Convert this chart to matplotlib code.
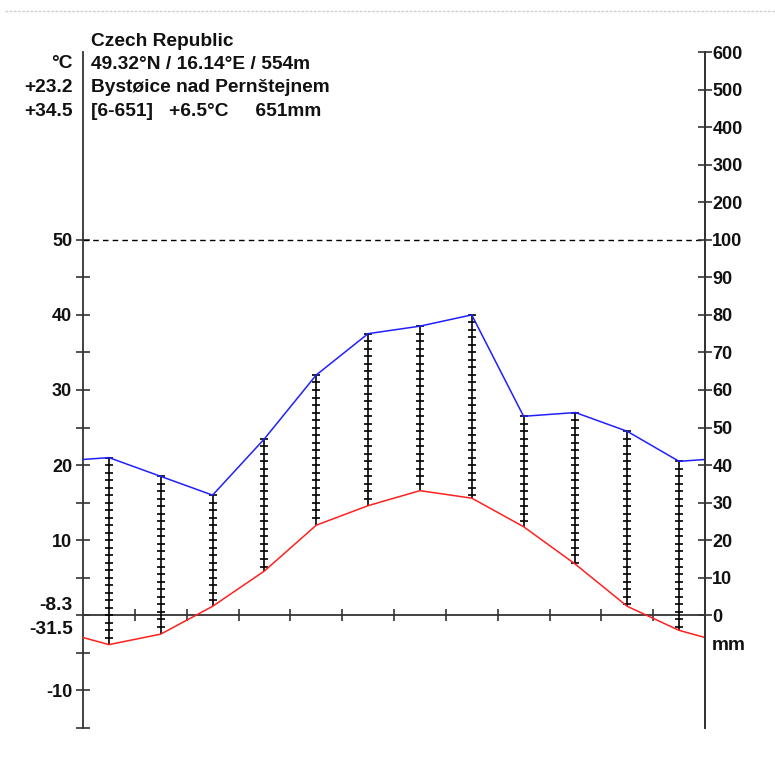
import numpy as np
import matplotlib.pyplot as plt
from matplotlib.lines import Line2D

plt.rcParams['font.family'] = ['Liberation Sans', 'DejaVu Sans']
plt.rcParams['font.weight'] = 'bold'

# station data
months = np.arange(12) + 0.5
temp_c = [-3.9, -2.5, 1.2, 5.9, 12.0, 14.6, 16.6, 15.6, 11.8, 6.8, 1.2, -2.0]
precip_mm = [42, 37, 32, 47, 64, 75, 77, 80, 53, 54, 49, 41]

header_lines = ['Czech Republic', '49.32°N / 16.14°E / 554m',
                'Bystøice nad Pernštejnem', '[6-651]   +6.5°C     651mm']
side_lines = ['°C', '+23.2', '+34.5']
low_labels = ['-8.3', '-31.5']

temp_ticks = [-10, 0, 10, 20, 30, 40, 50]
temp_tick_labels = ['-10', '', '10', '20', '30', '40', '50']
temp_minor = [-15, -5, 5, 15, 25, 35, 45]
mm_ticks = [0, 10, 20, 30, 40, 50, 60, 70, 80, 90, 100, 200, 300, 400, 500, 600]

axis_col = '#333333'
txt_col = '#111111'
fs_text = 13.8
fs_tick = 13
W, H = 775, 758


def mm_to_temp(p):
    # Walter-Lieth scale: 2 mm = 1 degC up to 100 mm, compressed x10 above
    p = np.asarray(p, dtype=float)
    return np.where(p <= 100, p / 2.0, 50 + (p - 100) / 20.0)


def fx(px):
    return px / W


def fy(py):
    return 1 - py / H


fig = plt.figure(figsize=(W / 100, H / 100), dpi=100)
ax = fig.add_axes([fx(83), fy(728), 622 / W, 676 / H])
ax.set_xlim(0, 12)
ax.set_ylim(-15, 75)

ax.spines['top'].set_visible(False)
ax.spines['bottom'].set_position(('data', 0))
for s in ['left', 'right', 'bottom']:
    ax.spines[s].set_color(axis_col)
    ax.spines[s].set_linewidth(1.3)

ax.set_xticks(np.arange(1, 12))
ax.tick_params(axis='x', direction='inout', length=9, width=1.2,
               color=axis_col, labelbottom=False)

ax.set_yticks(temp_ticks, labels=temp_tick_labels)
ax.set_yticks(temp_minor, minor=True)
ax.tick_params(axis='y', which='both', direction='inout', length=9.5, width=1.2,
               color=axis_col, labelsize=fs_tick, labelcolor=txt_col, pad=3)

ax2 = ax.twinx()
ax2.set_ylim(-15, 75)
for s in ['top', 'bottom', 'left']:
    ax2.spines[s].set_visible(False)
ax2.spines['right'].set_color(axis_col)
ax2.spines['right'].set_linewidth(1.3)
ax2.set_yticks(mm_to_temp(mm_ticks), labels=[str(v) for v in mm_ticks])
ax2.tick_params(axis='y', direction='inout', length=9.5, width=1.2,
                color=axis_col, labelsize=fs_tick, labelcolor=txt_col, pad=0.5)

# 100 mm / 50 degC reference
ax.axhline(50, color='black', lw=1, ls=(0, (4, 3)))

# humid period hatching
p_scaled = mm_to_temp(precip_mm)
for x, t, p in zip(months, temp_c, p_scaled):
    top, bot = max(t, p), min(t, p)
    ax.vlines(x, bot, top, color='black', lw=1.2, zorder=3)
    marks = np.arange(top, bot, -1.0)
    ax.plot([x] * len(marks), marks, ls='none', marker='_', ms=5.5, mew=1.2,
            color='black', zorder=3)

# curves, closed to the edges with the Dec/Jan mean
xs = np.concatenate([[0], months, [12]])
t_edge = (temp_c[0] + temp_c[-1]) / 2
p_edge = (p_scaled[0] + p_scaled[-1]) / 2
ax.plot(xs, np.concatenate([[t_edge], temp_c, [t_edge]]), color='#ff2020', lw=1.1, zorder=4,
        clip_on=False)
ax.plot(xs, np.concatenate([[p_edge], p_scaled, [p_edge]]), color='#2020ff', lw=1.1, zorder=4,
        clip_on=False)

# header texts
for i, s in enumerate(header_lines):
    fig.text(fx(91), fy(41 + i * 23.5), s, fontsize=fs_text, color=txt_col,
             ha='left', va='center')
for i, s in enumerate(side_lines):
    fig.text(fx(73), fy(64 + i * 23.5), s, fontsize=fs_text, color=txt_col,
             ha='right', va='center')
fig.text(fx(73), fy(606), low_labels[0], fontsize=fs_text, color=txt_col, ha='right', va='center')
fig.text(fx(73), fy(630), low_labels[1], fontsize=fs_text, color=txt_col, ha='right', va='center')
fig.text(fx(712), fy(646), 'mm', fontsize=fs_text, color=txt_col, ha='left', va='center')

fig.add_artist(Line2D([fx(5), 1], [fy(11), fy(11)], transform=fig.transFigure,
                      color='#d0d0d0', lw=1, ls=(0, (2, 1))))

fig.savefig('out.png', dpi=100)
